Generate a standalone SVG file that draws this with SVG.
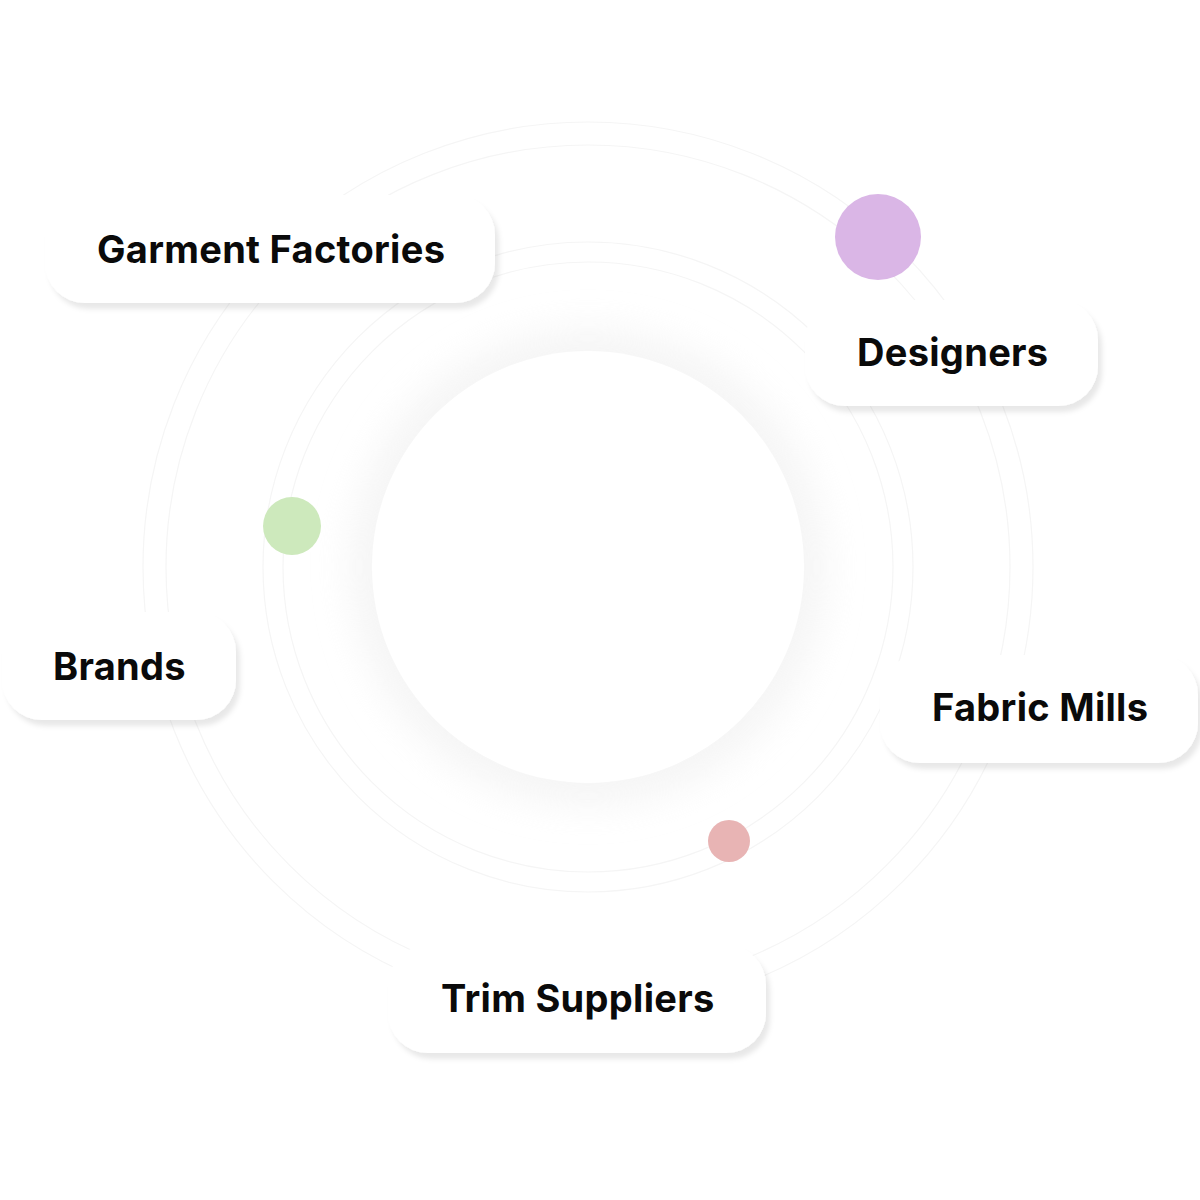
<svg xmlns="http://www.w3.org/2000/svg" width="1200" height="1200" viewBox="0 0 1200 1200">
<defs>
<style>
.ring{fill:none;stroke:#f5f5f5;stroke-width:1.2}
.box{fill:#ffffff;filter:url(#bs)}
.lbl{font-family:Inter,"Noto Sans","Liberation Sans",sans-serif;font-weight:700;font-size:38px;letter-spacing:0.3px;fill:#0a0a0a}
</style>
<filter id="bs" x="-20%" y="-30%" width="140%" height="170%">
<feDropShadow dx="4" dy="6" stdDeviation="2.5" flood-color="#000" flood-opacity="0.09"/>
</filter>
<filter id="glow" x="-50%" y="-50%" width="200%" height="200%">
<feGaussianBlur stdDeviation="18"/>
</filter>
</defs>
<rect width="1200" height="1200" fill="#ffffff"/>
<g id="connectors">
<circle class="ring" cx="588" cy="567" r="445"/>
<circle class="ring" cx="588" cy="567" r="422"/>
<circle class="ring" cx="588" cy="567" r="325"/>
<circle class="ring" cx="588" cy="567" r="305"/>
</g>
<g id="center">
<circle cx="588" cy="567" r="238" fill="#efefef" filter="url(#glow)" opacity="0.6"/>
<circle cx="588" cy="567" r="216" fill="#ffffff"/>
</g>
<g id="dot-purple"><circle cx="878" cy="237" r="43" fill="#dab6e6"/></g>
<g id="dot-green"><circle cx="292" cy="526" r="29" fill="#cde9bc"/></g>
<g id="dot-pink"><circle cx="729" cy="841" r="21" fill="#e8b4b4"/></g>
<g id="node-garment"><rect class="box" x="45" y="195" width="450" height="108" rx="40"/><text class="lbl" x="97" y="263">Garment Factories</text></g>
<g id="node-designers"><rect class="box" x="805" y="300" width="293" height="106" rx="40"/><text class="lbl" x="857" y="366">Designers</text></g>
<g id="node-brands"><rect class="box" x="2" y="612" width="234" height="108" rx="40"/><text class="lbl" x="53" y="680">Brands</text></g>
<g id="node-fabric"><rect class="box" x="880" y="655" width="318" height="108" rx="40"/><text class="lbl" x="932" y="721">Fabric Mills</text></g>
<g id="node-trim"><rect class="box" x="388" y="945" width="378" height="108" rx="40"/><text class="lbl" x="441" y="1012">Trim Suppliers</text></g>
</svg>
